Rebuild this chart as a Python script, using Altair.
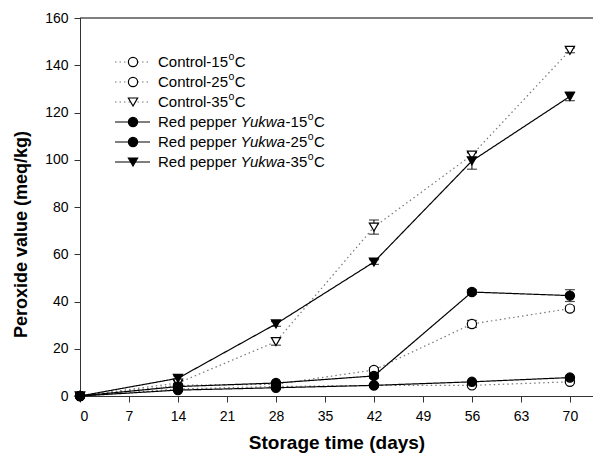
import altair as alt
import pandas as pd

# ---------------- data ----------------
days = [0, 14, 28, 42, 56, 70]
series = ["Control-15", "Control-25", "Control-35",
          "Red pepper Yukwa-15", "Red pepper Yukwa-25", "Red pepper Yukwa-35"]
ctrl15 = [0, 3.0, 4.0, 4.5, 4.5, 6.0]
ctrl25 = [0, 4.5, 5.0, 11.0, 30.5, 37.0]
ctrl35 = [0, 5.5, 23.0, 71.5, 102.0, 146.3]
rp15 = [0, 2.5, 3.5, 4.5, 6.0, 7.8]
rp25 = [0, 4.0, 5.5, 8.5, 44.0, 42.5]
rp35 = [0, 7.5, 30.5, 56.7, 99.5, 126.8]
err_ctrl15 = [0, 0.5, 0.5, 0.5, 0.5, 0.5]
err_ctrl25 = [0, 0.5, 0.5, 1.0, 1.5, 1.0]
err_ctrl35 = [0, 1.0, 1.5, 3.0, 1.0, 1.0]
err_rp15 = [0, 0.5, 0.5, 0.5, 0.5, 0.5]
err_rp25 = [0, 0.5, 0.5, 1.0, 1.0, 2.5]
err_rp35 = [0, 1.0, 1.0, 1.0, 3.5, 1.8]
x_ticks = [0, 7, 14, 21, 28, 35, 42, 49, 56, 63, 70]
y_ticks = [0, 20, 40, 60, 80, 100, 120, 140, 160]

values = [ctrl15, ctrl25, ctrl35, rp15, rp25, rp35]
errors = [err_ctrl15, err_ctrl25, err_ctrl35, err_rp15, err_rp25, err_rp35]

rows = []
for name, vals, errs in zip(series, values, errors):
    for d, v, e in zip(days, vals, errs):
        rows.append({"series": name, "day": d, "value": v, "lo": v - e, "hi": v + e})
df = pd.DataFrame(rows)

# ---------------- layout / style ----------------
PLOT_W, PLOT_H = 513, 378
X_MAX, Y_MAX = 73.3, 160
FONT = "Liberation Sans"

dash_range = [[1.5, 3], [1.5, 3], [1.5, 3], [1, 0], [1, 0], [1, 0]]
line_color_range = ["#777777"] * 3 + ["#000000"] * 3
shape_range = ["circle", "circle", "triangle-down", "circle", "circle", "triangle-down"]
fill_range = ["#ffffff"] * 3 + ["#000000"] * 3

xs = alt.Scale(domain=[0, X_MAX], nice=False, zero=True)
ys = alt.Scale(domain=[0, Y_MAX], nice=False)

X = alt.X("day:Q", scale=xs, axis=alt.Axis(
    values=x_ticks, title="Storage time (days)", titleFontSize=19,
    titleFontWeight="bold", titleBaseline="alphabetic", titleY=52,
    labelFontSize=14, labelPadding=7, tickSize=6, grid=False,
    domainColor="#333333", tickColor="#333333", labelColor="#000000",
    titleColor="#000000", labelFont=FONT, titleFont=FONT))
Y = alt.Y("value:Q", scale=ys, axis=alt.Axis(
    values=y_ticks, title="Peroxide value (meq/kg)", titleFontSize=18,
    titleFontWeight="bold", titleX=-50, titleY=216,
    labelFontSize=14, labelPadding=6, tickSize=6, grid=False,
    domainColor="#333333", tickColor="#333333", labelColor="#000000",
    titleColor="#000000", labelFont=FONT, titleFont=FONT))

dash_enc = alt.StrokeDash("series:N", scale=alt.Scale(domain=series, range=dash_range), legend=None)
col_enc = alt.Color("series:N", scale=alt.Scale(domain=series, range=line_color_range), legend=None)
shape_enc = alt.Shape("series:N", scale=alt.Scale(domain=series, range=shape_range), legend=None)
fill_enc = alt.Fill("series:N", scale=alt.Scale(domain=series, range=fill_range), legend=None)

base = alt.Chart(df)
lines = base.mark_line(strokeWidth=1.2).encode(x=X, y=Y, detail="series:N",
                                               strokeDash=dash_enc, color=col_enc)
err_v = base.mark_rule(color="#000000", strokeWidth=1).encode(
    x="day:Q", y="lo:Q", y2="hi:Q")
cap_lo = base.mark_tick(orient="horizontal", size=10, thickness=1.2, color="#000000").encode(
    x="day:Q", y="lo:Q")
cap_hi = base.mark_tick(orient="horizontal", size=10, thickness=1.2, color="#000000").encode(
    x="day:Q", y="hi:Q")
pts = base.mark_point(stroke="#000000", strokeWidth=1.2, opacity=1, size=85).encode(
    x="day:Q", y="value:Q", shape=shape_enc, fill=fill_enc)

top_line = alt.Chart(pd.DataFrame({"v": [Y_MAX]})).mark_rule(color="#000000", strokeWidth=1).encode(
    y=alt.Y("v:Q"), x=alt.value(0), x2=alt.value(PLOT_W))

# ---------------- legend (custom, to allow italics and superscript) ----------------
W = {'C': .722, 'o': .556, 'n': .556, 't': .278, 'r': .333, 'l': .222, '-': .333,
     '1': .556, '2': .556, '3': .556, '5': .556, 'R': .722, 'e': .556, 'd': .556,
     ' ': .278, 'p': .556, 'Y': .667, 'u': .556, 'k': .5, 'w': .722, 'a': .556}
FS, FS_SUP = 15, 10.5


def tw(s, fs):
    return sum(W.get(c, .556) for c in s) * fs


def px2day(px):
    return px * X_MAX / PLOT_W


def py2val(py):
    return Y_MAX * (1 - py / PLOT_H)


leg_rows, leg_txt = [], []
temps = ["15", "25", "35", "15", "25", "35"]
for i, name in enumerate(series):
    py = 44 + 20 * i
    leg_rows.append({"series": name, "x1": px2day(35), "x2": px2day(70),
                     "xm": px2day(53), "ly": py2val(py)})
    x = 78
    if name.startswith("Control"):
        parts = [("Control-" + temps[i], "n")]
    else:
        parts = [("Red pepper ", "n"), ("Yukwa", "i"), ("-" + temps[i], "n")]
    for t, st in parts:
        leg_txt.append({"t": t, "st": st, "x": px2day(x), "ly": py2val(py)})
        x += tw(t, FS)
    leg_txt.append({"t": "o", "st": "s", "x": px2day(x + 0.5), "ly": py2val(py)})
    x += tw("o", FS_SUP) + 1
    leg_txt.append({"t": "C", "st": "n", "x": px2day(x), "ly": py2val(py)})
leg_df = pd.DataFrame(leg_rows)
txt_df = pd.DataFrame(leg_txt)

lb = alt.Chart(leg_df)
leg_lines = lb.mark_rule(strokeWidth=1.2).encode(
    x="x1:Q", x2="x2:Q", y="ly:Q", strokeDash=dash_enc, color=col_enc)
leg_pts = lb.mark_point(stroke="#000000", strokeWidth=1.2, opacity=1, size=85).encode(
    x="xm:Q", y="ly:Q", shape=shape_enc, fill=fill_enc)

tb = alt.Chart(txt_df)
t_norm = tb.mark_text(align="left", baseline="middle", fontSize=FS, font=FONT, color="#000000").encode(
    x="x:Q", y="ly:Q", text="t:N").transform_filter("datum.st == 'n'")
t_ital = tb.mark_text(align="left", baseline="middle", fontSize=FS, font=FONT, fontStyle="italic",
                      color="#000000").encode(x="x:Q", y="ly:Q", text="t:N").transform_filter("datum.st == 'i'")
t_sup = tb.mark_text(align="left", baseline="middle", fontSize=FS_SUP, font=FONT, dy=-5,
                     color="#000000").encode(x="x:Q", y="ly:Q", text="t:N").transform_filter("datum.st == 's'")

chart = alt.layer(lines, err_v, cap_lo, cap_hi, pts, top_line,
                  leg_lines, leg_pts, t_norm, t_ital, t_sup).properties(
    width=PLOT_W, height=PLOT_H,
    autosize=alt.AutoSizeParams(type="none"),
    padding={"left": 72, "top": 10, "right": 0, "bottom": 59},
    background="#ffffff",
).configure_view(stroke=None)

chart.save("out.html", embed_options={"renderer": "svg", "actions": False})
